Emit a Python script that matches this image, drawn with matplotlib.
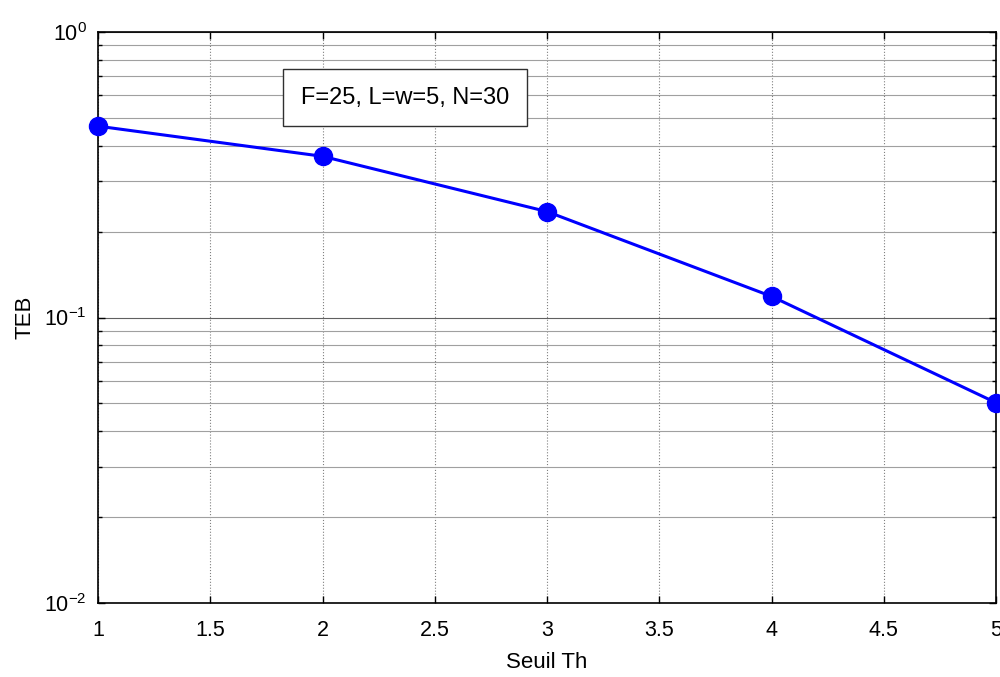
import matplotlib
matplotlib.use("Agg")
import matplotlib.pyplot as plt
from matplotlib.ticker import LogLocator, NullFormatter, FuncFormatter
import math

plt.rcParams['font.family'] = ['Liberation Sans', 'DejaVu Sans']
plt.rcParams['mathtext.fontset'] = 'custom'
plt.rcParams['mathtext.rm'] = 'Liberation Sans'
plt.rcParams['mathtext.it'] = 'Liberation Sans'
plt.rcParams['mathtext.bf'] = 'Liberation Sans'

seuil = [1, 2, 3, 4, 5]
teb = [0.468, 0.367, 0.235, 0.1186, 0.0503]
xticks = [1, 1.5, 2, 2.5, 3, 3.5, 4, 4.5, 5]
xticklabels = ['1', '1.5', '2', '2.5', '3', '3.5', '4', '4.5', '5']
annot = 'F=25, L=w=5, N=30'

fig = plt.figure(figsize=(10, 6.77), dpi=100)
ax = fig.add_axes([0.098, 0.1093, 0.898, 0.8434])
ax.semilogy(seuil, teb, color='#0000ff', lw=2.2, marker='o', ms=13,
            markerfacecolor='#0000ff', markeredgecolor='#0000ff', clip_on=False, zorder=5)
ax.set_xlim(1, 5)
ax.set_ylim(1e-2, 1e0)
ax.set_xticks(xticks)
ax.set_xticklabels(xticklabels)
ax.yaxis.set_major_locator(LogLocator(base=10, numticks=10))
ax.yaxis.set_major_formatter(FuncFormatter(
    lambda v, p: r'$\mathregular{10^{%d}}$' % int(round(math.log10(v)))))
ax.yaxis.set_minor_locator(LogLocator(base=10, subs=range(2, 10), numticks=20))
ax.yaxis.set_minor_formatter(NullFormatter())

ax.grid(True, which='major', axis='x', color='#808080', linestyle=':', lw=0.8)
ax.grid(True, which='major', axis='y', color='#606060', linestyle='-', lw=0.8)
ax.grid(True, which='minor', axis='y', color='#a0a0a0', linestyle='-', lw=0.8)

ax.tick_params(which='both', direction='in', top=True, right=True, labelsize=15.5, width=1)
ax.tick_params(axis='x', which='major', pad=12)
ax.tick_params(axis='y', which='major', pad=8)
ax.tick_params(which='major', length=5)
ax.tick_params(which='minor', length=3)
for s in ax.spines.values():
    s.set_linewidth(1.2)

ax.set_xlabel('Seuil Th', fontsize=16)
ax.set_ylabel('TEB', fontsize=16)
ax.xaxis.set_label_coords(0.5, -0.086)
ax.yaxis.set_label_coords(-0.0697, 0.5)

ax.text(0.342, 0.885, annot, transform=ax.transAxes, fontsize=17,
        ha='center', va='center',
        bbox=dict(boxstyle='square,pad=0.75', facecolor='white', edgecolor='#303030', lw=1))

fig.savefig('out.png', dpi=100)
